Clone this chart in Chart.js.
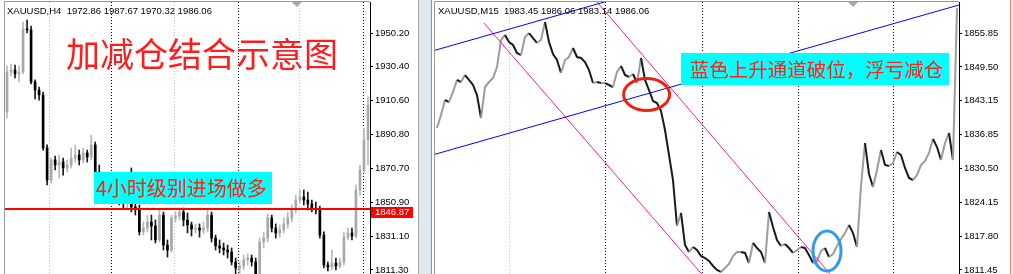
<!DOCTYPE html>
<html>
<head>
<meta charset="utf-8">
<script src="https://cdn.jsdelivr.net/npm/chart.js@4.4.1/dist/chart.umd.min.js"></script>
<style>
body{margin:0;width:1013px;height:274px;overflow:hidden;background:#fff;position:relative;font-family:"Liberation Sans",Arial,sans-serif}
canvas{position:absolute;top:0}
#gap{position:absolute;left:418px;top:0;width:14px;height:274px;background:#dfe7f1;border-left:1px solid #a0a0a0;border-right:1px solid #8a94a4;box-sizing:border-box}
#edge{position:absolute;left:1010px;top:0;width:3px;height:274px;background:#fbe3e3;border-left:1px solid #f08080;box-sizing:border-box}
.sym{position:absolute;top:5px;font-size:9.5px;line-height:11px;color:#000;white-space:pre}
#title{position:absolute;left:66px;top:35px;font-family:"Noto Sans CJK SC";font-size:34px;line-height:36px;color:#ff1c1c;white-space:nowrap}
.note{position:absolute;height:32px;line-height:32px;background:#00ffff;color:#f52a14;font-family:"Noto Sans CJK SC";white-space:nowrap;box-sizing:border-box}
</style>
</head>
<body>
<canvas id="h4" width="418" height="274" style="left:0;width:418px;height:274px"></canvas>
<div id="gap"></div>
<canvas id="m15" width="578" height="274" style="left:432px;width:578px;height:274px"></canvas>
<div id="edge"></div>
<div class="sym" style="left:7px">XAUUSD,H4  1972.86 1987.67 1970.32 1986.06</div>
<div class="sym" style="left:438px">XAUUSD,M15  1983.45 1986.06 1983.14 1986.06</div>
<div id="title">加减仓结合示意图</div>
<div class="note" style="left:94px;top:172px;width:178px;font-size:20px;padding-left:2px">4小时级别进场做多</div>
<div class="note" style="left:681px;top:53px;width:268px;font-size:19.5px;padding-left:9px">蓝色上升通道破位，浮亏减仓</div>
<script>
// ---- H4 panel (left) ----
var h4FirstOpen = 1903.9;
var h4Close = [1927.3,1928.5,1926.2,1927.3,1952.5,1952.0,1921.5,1916.8,1913.9,1882.8,
  1864.0,1875.8,1872.8,1874.6,1871.1,1872.8,1876.9,1878.7,1875.8,1879.9,
  1877.5,1884.6,1868.7,1864.0,1861.1,1858.2,1855.2,1853.5,1852.3,1850.6,
  1852.3,1848.2,1846.5,1833.6,1835.9,1839.4,1837.1,1828.9,1843.5,1825.9,
  1823.0,1841.8,1843.0,1845.3,1840.6,1837.7,1835.3,1835.9,1834.7,1835.9,
  1843.5,1830.0,1825.4,1824.2,1823.0,1821.8,1816.0,1812.5,1813.6,1817.2,
  1818.3,1816.0,1807.8,1827.7,1830.0,1841.8,1835.9,1833.0,1834.7,1838.3,
  1841.8,1846.5,1852.3,1854.1,1852.3,1850.0,1847.6,1846.5,1831.8,1814.2,
  1813.1,1815.4,1813.6,1816.0,1830.6,1833.0,1831.2,1858.2,1869.9,1887.5,
  1908.0];
var h4High = [1930.9,1932.0,1931.4,1930.9,1956.6,1957.8,1954.3,1922.7,1918.5,1915.6,
  1884.6,1876.9,1878.1,1878.7,1876.9,1875.8,1882.8,1884.6,1881.6,1882.8,
  1881.6,1890.4,1886.3,1872.8,1866.9,1864.0,1861.1,1858.2,1857.0,1855.2,
  1854.7,1871.1,1852.3,1849.4,1839.4,1843.5,1843.5,1840.6,1846.5,1845.3,
  1828.9,1843.5,1845.3,1847.6,1847.6,1844.7,1839.4,1838.3,1838.3,1839.4,
  1846.5,1845.3,1831.8,1828.9,1827.1,1825.9,1824.2,1818.3,1816.0,1820.1,
  1820.7,1820.1,1818.3,1830.0,1833.6,1844.1,1843.5,1838.3,1837.7,1841.8,
  1845.3,1849.4,1855.2,1858.2,1858.2,1857.0,1852.3,1851.1,1848.8,1833.6,
  1816.0,1823.0,1818.3,1818.3,1833.6,1835.9,1835.9,1861.1,1872.8,1894.5,
  1912.7];
var h4Low = [1900.4,1925.0,1923.8,1921.5,1926.2,1950.2,1920.3,1911.5,1910.9,1881.6,
  1861.1,1862.3,1869.9,1865.2,1866.9,1868.7,1871.1,1874.6,1872.8,1874.0,
  1874.6,1875.8,1866.9,1861.1,1855.2,1853.5,1852.3,1850.6,1849.4,1847.6,
  1846.5,1845.3,1843.5,1831.8,1831.8,1833.6,1828.9,1827.1,1827.7,1823.0,
  1818.9,1821.8,1839.4,1840.6,1837.1,1833.0,1831.2,1833.0,1830.6,1832.4,
  1833.6,1827.7,1823.0,1821.3,1820.1,1818.3,1814.2,1809.0,1809.0,1811.3,
  1814.2,1813.6,1805.4,1805.4,1824.2,1827.7,1833.6,1830.0,1830.6,1833.0,
  1835.9,1839.4,1844.7,1850.6,1849.4,1846.5,1845.3,1844.1,1830.0,1812.5,
  1810.7,1811.3,1811.3,1812.5,1814.2,1828.9,1828.9,1830.0,1855.2,1868.7,
  1872.8];
var h4Ticks = [1950.20,1930.40,1910.60,1890.80,1870.70,1850.90,1831.10,1811.30];
var h4Range = [1808.95, 1968.37];
var entryPrice = 1846.87;
// period separators, in bar index
var h4SepMajor = [26, 57.5, 88.75];
var h4SepMinor = [10.5, 41.75, 72.75];
var h4Shift = 72.25;

// ---- M15 panel (right) ----
var m15Close = [1838.05,1840.49,1843.30,1842.92,1844.80,1847.05,1846.67,1847.98,1847.05,1846.11,
  1844.23,1839.93,1845.73,1846.67,1847.42,1849.48,1854.54,1855.48,1854.16,1853.60,
  1852.10,1851.73,1855.10,1855.85,1854.91,1853.98,1854.54,1857.91,1854.16,1851.92,
  1850.79,1848.36,1850.79,1851.35,1853.04,1851.35,1851.17,1850.42,1848.92,1846.48,
  1846.67,1846.48,1846.48,1846.11,1845.73,1848.54,1849.67,1847.98,1847.61,1848.17,
  1846.48,1851.17,1847.05,1845.17,1843.11,1842.74,1841.24,1837.68,1832.99,1828.31,
  1819.69,1822.13,1816.13,1814.82,1815.76,1815.20,1814.07,1813.70,1813.14,1812.20,
  1811.45,1811.08,1811.83,1812.57,1814.07,1814.82,1814.82,1814.64,1812.76,1816.51,
  1815.57,1814.82,1812.76,1822.32,1819.51,1817.07,1815.95,1816.32,1815.57,1814.64,
  1815.20,1815.76,1815.57,1814.26,1812.76,1813.14,1815.01,1815.57,1813.89,1814.45,
  1815.95,1817.26,1818.38,1819.88,1818.38,1815.76,1827.19,1835.24,1829.44,1827.00,
  1830.18,1833.93,1831.12,1830.93,1831.50,1833.56,1832.99,1830.56,1828.69,1828.31,
  1829.25,1831.12,1831.87,1833.37,1835.99,1834.49,1832.06,1835.24,1837.12,1832.06,
  1860.50];
var m15Ticks = [1855.85,1849.50,1843.15,1836.85,1830.50,1824.15,1817.80,1811.45];
var m15Range = [1810.70, 1861.66];
// trend lines as [index, price] pairs
var blueUpper = [[-0.5, 1852.62], [130.5, 1880.59]];
var blueLower = [[-0.5, 1833.13], [130.5, 1861.10]];
var pinkUpper = [[11.75, 1857.72], [70, 1807.39]];
var pinkLower = [[39, 1862.56], [100, 1809.19]];
var redMark = [52.4, 1844.33];
var blueMark = [97.5, 1815.01];
var m15SepMajor = [42, 66.25, 90.25, 114];
var m15SepMinor = [18];
var m15Shift = 104;

var tickFont = {family: '"Liberation Sans", Arial, sans-serif', size: 9.5};

function yAxis(ticks, range, w) {
  return {
    position: 'right', min: range[0], max: range[1],
    afterBuildTicks: function(s) { s.ticks = ticks.map(function(v) { return {value: v}; }); },
    afterFit: function(s) { s.width = w; s.paddingTop = 0; s.paddingBottom = 0; },
    ticks: {autoSkip: false, color: '#000', font: tickFont, padding: 2,
      callback: function(v) { return Number(v).toFixed(2); }},
    grid: {drawOnChartArea: false, drawTicks: true, tickLength: 3, color: '#000'},
    border: {display: true, color: '#000'}
  };
}

//separators, frame and the small shift triangle
function backdrop(major, minor, shift) {
  return {
    id: 'backdrop',
    beforeDatasetsDraw: function(chart) {
      var ctx = chart.ctx, a = chart.chartArea, x = chart.scales.x;
      ctx.save();
      ctx.lineWidth = 1;
      ctx.setLineDash([1, 2]);
      [[minor, '#c4c4c4'], [major, '#000']].forEach(function(p) {
        ctx.strokeStyle = p[1];
        p[0].forEach(function(v) {
          var px = Math.round(x.getPixelForValue(v)) + 0.5;
          ctx.beginPath(); ctx.moveTo(px, a.top); ctx.lineTo(px, a.bottom); ctx.stroke();
        });
      });
      ctx.setLineDash([]);
      ctx.strokeStyle = '#9a9a9a';
      ctx.beginPath();
      ctx.moveTo(a.left - 0.5, a.bottom); ctx.lineTo(a.left - 0.5, a.top - 0.5); ctx.lineTo(a.right, a.top - 0.5);
      ctx.stroke();
      var tx = x.getPixelForValue(shift);
      ctx.fillStyle = '#a8a8a8';
      ctx.beginPath(); ctx.moveTo(tx - 5, a.top); ctx.lineTo(tx + 5, a.top); ctx.lineTo(tx, a.top + 5); ctx.fill();
      ctx.restore();
    }
  };
}

var h4Open = [h4FirstOpen].concat(h4Close.slice(0, -1));
function isUp(i) { return h4Close[i] >= h4Open[i]; }

new Chart(document.getElementById('h4'), {
  type: 'bar',
  data: {
    labels: h4Close.map(function(_, i) { return i; }),
    datasets: [{
      label: 'body', order: 0, grouped: false, barThickness: 2, minBarLength: 1,
      data: h4Close.map(function(c, i) { return [h4Open[i], c]; }),
      backgroundColor: function(c) { return isUp(c.dataIndex) ? '#a8a8a8' : '#000'; }
    }, {
      label: 'wick', order: 1, grouped: false, barThickness: 1,
      data: h4Low.map(function(l, i) { return [l, h4High[i]]; }),
      backgroundColor: function(c) { return isUp(c.dataIndex) ? '#b8b8b8' : '#1a1a1a'; }
    }]
  },
  options: {
    responsive: false, animation: false, devicePixelRatio: 1,
    layout: {padding: {left: 5, top: 2, right: 0, bottom: 0}},
    plugins: {legend: {display: false}, tooltip: {enabled: false}},
    scales: {x: {display: false}, y: yAxis(h4Ticks, h4Range, 48)}
  },
  plugins: [backdrop(h4SepMajor, h4SepMinor, h4Shift), {
    id: 'entry',
    afterDraw: function(chart) {
      var ctx = chart.ctx, a = chart.chartArea;
      var py = chart.scales.y.getPixelForValue(entryPrice);
      ctx.save();
      ctx.fillStyle = '#ff0000';
      ctx.fillRect(a.left, Math.round(py) - 1, a.right - a.left, 2);
      ctx.fillRect(a.right + 1, Math.round(py) - 2, 42, 11);
      ctx.fillStyle = '#fff';
      ctx.font = '9.5px "Liberation Sans", Arial, sans-serif';
      ctx.textBaseline = 'middle';
      ctx.fillText(entryPrice.toFixed(2), a.right + 5, Math.round(py) + 3.5);
      ctx.restore();
    }
  }]
});

function pts(pairs) { return pairs.map(function(p) { return {x: p[0], y: p[1]}; }); }
function trend(pairs, color) {
  return {type: 'line', data: pts(pairs), borderColor: color, borderWidth: 1, pointRadius: 0, tension: 0};
}

new Chart(document.getElementById('m15'), {
  type: 'line',
  data: {
    datasets: [
      trend(blueUpper, '#0000ff'),
      trend(blueLower, '#0000ff'),
      trend(pinkUpper, '#ff1a9c'),
      trend(pinkLower, '#ff1a9c'),
      {
        data: m15Close.map(function(v, i) { return {x: i, y: v}; }),
        borderWidth: 2, pointRadius: 0, tension: 0, borderColor: '#555',
        segment: {borderColor: function(c) { return c.p1.parsed.y < c.p0.parsed.y ? '#1a1a1a' : '#9c9c9c'; }}
      }
    ]
  },
  options: {
    responsive: false, animation: false, devicePixelRatio: 1,
    layout: {padding: {left: 3, top: 2, right: 0, bottom: 0}},
    plugins: {legend: {display: false}, tooltip: {enabled: false}},
    scales: {x: {type: 'linear', display: false, min: -0.5, max: 130.5}, y: yAxis(m15Ticks, m15Range, 51)}
  },
  plugins: [backdrop(m15SepMajor, m15SepMinor, m15Shift), {
    id: 'marks',
    afterDatasetsDraw: function(chart) {
      var ctx = chart.ctx, x = chart.scales.x, y = chart.scales.y;
      ctx.save();
      ctx.lineWidth = 3;
      [[redMark, '#ee2211', 23, 16], [blueMark, '#3399ee', 14, 20]].forEach(function(m) {
        ctx.strokeStyle = m[1];
        ctx.beginPath();
        ctx.ellipse(x.getPixelForValue(m[0][0]), y.getPixelForValue(m[0][1]), m[2], m[3], 0, 0, Math.PI * 2);
        ctx.stroke();
      });
      ctx.restore();
    }
  }]
});
</script>
</body>
</html>
